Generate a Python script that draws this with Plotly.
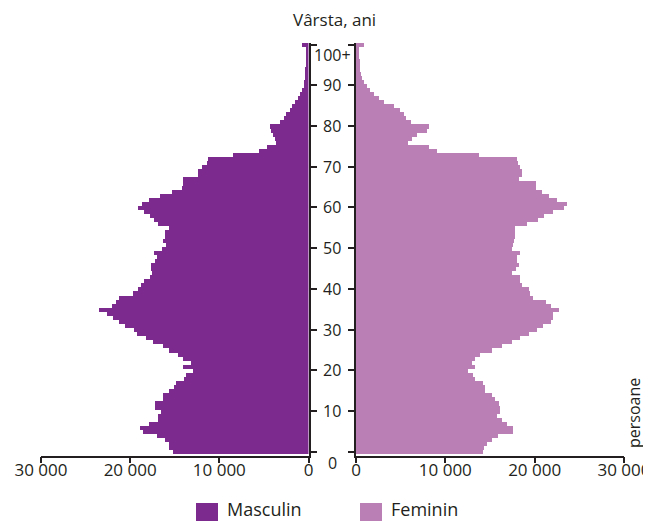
import plotly.graph_objects as go

# ---------------- data ----------------
ages = list(range(101))

male = [
    15200, 15600, 15700, 16050, 16950, 18600, 18950, 17900, 16900, 16900,
    16500, 17200, 17200, 16350, 16300, 15670, 15030, 14880, 13950, 13760,
    12980, 14100, 13200, 14100, 14620, 15600, 16270, 17400, 18250, 19260,
    19600, 20570, 21210, 21950, 22630, 23460, 22000, 21580, 21210, 19640,
    19080, 18780, 18400, 17770, 17580, 17650, 17650, 17200, 17020, 17320,
    16460, 16000, 16340, 16150, 16090, 15700, 16830, 17280, 17770, 18440,
    19070, 18630, 17840, 16650, 15260, 14220, 14100, 14030, 12420, 12350,
    12000, 11340, 11300, 8500, 5500, 4670, 3700, 3800, 3930, 4220,
    4370, 3170, 2800, 2500, 2130, 1870, 1500, 1230, 1000, 740,
    550, 450, 400, 380, 350, 330, 320, 300, 300, 300,
    740,
]

female = [
    14260, 14300, 14640, 15200, 15940, 17540, 17540, 16870, 16310, 15750,
    16130, 16130, 16000, 15570, 15200, 14450, 14450, 14260, 13330, 13140,
    12580, 13330, 12950, 13330, 13880, 15200, 16300, 17430, 18360, 19400,
    20220, 20960, 21800, 22010, 22080, 22750, 21880, 21250, 19850, 19470,
    19400, 18550, 18360, 18360, 17430, 17880, 18250, 17990, 17990, 18360,
    17430, 17610, 17680, 17800, 17800, 17800, 19100, 20400, 21040, 22080,
    23270, 23570, 22460, 21630, 20780, 20150, 20150, 18250, 18620, 18550,
    18360, 18180, 18000, 13810, 9050, 8220, 5800, 6300, 6800, 8000,
    8200, 6150, 5620, 5320, 4880, 4280, 3160, 2600, 1970, 1600,
    1230, 850, 650, 560, 500, 450, 400, 380, 350, 330,
    850,
]

age_ticks = [0, 10, 20, 30, 40, 50, 60, 70, 80, 90, 100]
age_tick_labels = ["0", "10", "20", "30", "40", "50", "60", "70", "80", "90", "100+"]
x_ticks = [0, 10000, 20000, 30000]
x_tick_labels = ["0", "10 000", "20 000", "30 000"]

series_names = ["Masculin", "Feminin"]
title_text = "Vârsta, ani"
unit_text = "persoane"

# ---------------- style ----------------
W, H = 651, 521
OFF = 8  # page body margin offset
C_M = "#7d2a8e"
C_F = "#ba80b6"
INK = "#231f20"
FONT = "Open Sans"

def px_x(p):
    return (p - OFF) / W

def px_y(p):
    return (H - (p - OFF)) / H

y_dom = [px_y(455.5), px_y(42.5)]

fig = go.Figure()
fig.add_trace(go.Bar(y=ages, x=male, orientation="h", xaxis="x", yaxis="y",
                     marker=dict(color=C_M, line=dict(width=0)), width=1,
                     name=series_names[0], showlegend=False, hoverinfo="x+y"))
fig.add_trace(go.Bar(y=ages, x=female, orientation="h", xaxis="x2", yaxis="y2",
                     marker=dict(color=C_F, line=dict(width=0)), width=1,
                     name=series_names[1], showlegend=False, hoverinfo="x+y"))

xcommon = dict(tickvals=x_ticks, ticktext=x_tick_labels, ticks="outside", ticklen=6,
               tickwidth=1.5, tickcolor=INK, showline=True, linecolor=INK, linewidth=1.5,
               showgrid=False, zeroline=False, fixedrange=True, automargin=False,
               ticklabelstandoff=-8,
               tickfont=dict(family=FONT, size=17, color=INK))
ycommon = dict(range=[-0.9, 100.5], domain=y_dom, tickvals=age_ticks, ticks="outside",
               ticklen=6, tickwidth=1.5, tickcolor=INK, showticklabels=False,
               showline=True, linecolor=INK, linewidth=2, showgrid=False,
               zeroline=False, fixedrange=True, automargin=False)

fig.update_layout(
    template="none",
    width=W, height=H,
    margin=dict(l=0, r=0, t=0, b=0, pad=0, autoexpand=False),
    paper_bgcolor="white", plot_bgcolor="white",
    bargap=0,
    showlegend=False,
    font=dict(family=FONT, color=INK),
    xaxis=dict(domain=[px_x(41), px_x(308.5)], range=[30000, 0], anchor="y", **xcommon),
    yaxis=dict(anchor="x", side="right", **ycommon),
    xaxis2=dict(domain=[px_x(356), px_x(624)], range=[0, 30000], anchor="y2", **xcommon),
    yaxis2=dict(anchor="x2", side="left", **ycommon),
)

annotations = []
for v, lab in zip(age_ticks, age_tick_labels):
    shift = 0
    if v == age_ticks[0]:
        shift = -11
    elif v == age_ticks[-1]:
        shift = -10
    annotations.append(dict(x=px_x(332), xref="paper", y=v, yref="y", text=lab,
                            showarrow=False, xanchor="center", yanchor="middle",
                            yshift=shift, font=dict(family=FONT, size=16, color=INK)))
annotations.append(dict(x=px_x(334), y=px_y(19), xref="paper", yref="paper", text=title_text,
                        showarrow=False, xanchor="center", yanchor="middle",
                        font=dict(family=FONT, size=17, color=INK)))
annotations.append(dict(x=px_x(634), y=px_y(413), xref="paper", yref="paper", text=unit_text,
                        textangle=-90, showarrow=False, xanchor="center", yanchor="middle",
                        font=dict(family=FONT, size=16, color=INK)))
shapes = []
for name, col, x0 in zip(series_names, [C_M, C_F], [196, 360]):
    shapes.append(dict(type="rect", xref="paper", yref="paper",
                       x0=px_x(x0), x1=px_x(x0 + 22), y0=px_y(521), y1=px_y(503),
                       fillcolor=col, line=dict(width=0)))
    annotations.append(dict(x=px_x(x0 + 29), y=px_y(509), xref="paper", yref="paper",
                            text=name, showarrow=False, xanchor="left", yanchor="middle",
                            font=dict(family=FONT, size=18, color=INK)))

fig.update_layout(annotations=annotations, shapes=shapes)
fig.write_html("out.html")
